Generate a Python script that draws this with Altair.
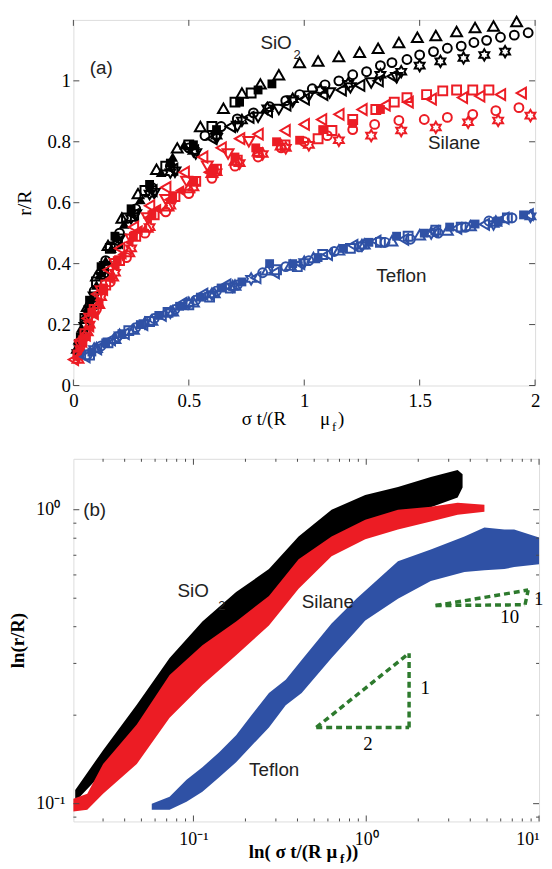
import altair as alt
import pandas as pd

BLACK = "#000000"
RED = "#ec1c24"
BLUE = "#2f51a5"
GREEN = "#2d7a2d"
FRAME = "#4a4a4a"
HEXAGRAM = ("M0,-1L0.289,-0.5L0.866,-0.5L0.577,0L0.866,0.5L0.289,0.5L0,1"
            "L-0.289,0.5L-0.866,0.5L-0.577,0L-0.866,-0.5L-0.289,-0.5Z")

# ---------------- panel (a) : r/R vs sigma t/(R mu_f) ----------------
sio2_tri_up_x = [0.03, 0.06, 0.10, 0.15, 0.21, 0.28, 0.36, 0.45, 0.55, 0.65, 0.73, 0.81, 0.89, 0.98, 1.06, 1.15, 1.24, 1.32, 1.41, 1.49, 1.57, 1.66, 1.74, 1.82, 1.92]
sio2_tri_up_y = [0.15, 0.26, 0.36, 0.46, 0.55, 0.63, 0.71, 0.78, 0.85, 0.91, 0.96, 0.99, 1.02, 1.06, 1.065, 1.08, 1.094, 1.107, 1.126, 1.143, 1.149, 1.162, 1.175, 1.18, 1.195]
sio2_tri_up_filled_x = [0.01, 0.02, 0.035, 0.05, 0.065, 0.08, 0.10, 0.12, 0.14, 0.165, 0.19, 0.22, 0.25, 0.29, 0.33, 0.38, 0.43, 0.48]
sio2_tri_up_filled_y = [0.12, 0.15, 0.19, 0.23, 0.26, 0.29, 0.33, 0.37, 0.41, 0.45, 0.49, 0.53, 0.57, 0.61, 0.65, 0.70, 0.75, 0.79]
sio2_circle_x = [0.02, 0.05, 0.09, 0.14, 0.20, 0.27, 0.34, 0.42, 0.50, 0.57, 0.64, 0.71, 0.78, 0.85, 0.92, 0.98, 1.035, 1.09, 1.15, 1.21, 1.27, 1.33, 1.38, 1.445, 1.50, 1.56, 1.62, 1.68, 1.735, 1.79, 1.85, 1.91, 1.97]
sio2_circle_y = [0.11, 0.20, 0.31, 0.41, 0.50, 0.58, 0.65, 0.72, 0.78, 0.82, 0.85, 0.875, 0.895, 0.915, 0.935, 0.955, 0.974, 0.987, 1.0, 1.02, 1.03, 1.05, 1.06, 1.07, 1.085, 1.096, 1.107, 1.114, 1.126, 1.133, 1.143, 1.15, 1.158]
sio2_star_x = [0.03, 0.07, 0.12, 0.18, 0.25, 0.33, 0.42, 0.52, 0.62, 0.73, 0.84, 0.95, 1.07, 1.19, 1.33, 1.42, 1.50, 1.59, 1.69, 1.78, 1.87]
sio2_star_y = [0.14, 0.25, 0.36, 0.46, 0.55, 0.63, 0.70, 0.77, 0.82, 0.87, 0.91, 0.94, 0.97, 0.99, 1.02, 1.03, 1.05, 1.064, 1.075, 1.085, 1.096]
sio2_tri_down_x = [0.02, 0.05, 0.09, 0.14, 0.20, 0.27, 0.35, 0.44, 0.53, 0.62, 0.71, 0.80, 0.89, 0.95, 1.02, 1.11, 1.20, 1.29, 1.40]
sio2_tri_down_y = [0.10, 0.19, 0.29, 0.39, 0.48, 0.56, 0.63, 0.70, 0.76, 0.81, 0.85, 0.88, 0.906, 0.93, 0.95, 0.96, 0.977, 0.993, 1.01]
sio2_tri_left_x = [0.04, 0.08, 0.13, 0.19, 0.26, 0.34, 0.43, 0.52, 0.60, 0.68, 0.76, 0.84, 0.92, 1.00, 1.08, 1.16, 1.24, 1.32, 1.38]
sio2_tri_left_y = [0.17, 0.27, 0.37, 0.47, 0.56, 0.64, 0.71, 0.77, 0.81, 0.85, 0.88, 0.90, 0.92, 0.94, 0.955, 0.97, 0.985, 1.0, 1.015]
sio2_sq_filled_x = [0.03, 0.07, 0.12, 0.18, 0.25, 0.33, 0.42, 0.52, 0.62, 0.72, 0.80, 0.86]
sio2_sq_filled_y = [0.16, 0.28, 0.39, 0.49, 0.58, 0.66, 0.73, 0.79, 0.84, 0.93, 0.97, 0.99]
sio2_sq_open_x = [0.05, 0.10, 0.16, 0.23, 0.31, 0.40, 0.50, 0.60, 0.70, 0.77]
sio2_sq_open_y = [0.22, 0.34, 0.45, 0.55, 0.64, 0.72, 0.79, 0.85, 0.93, 0.96]

sil_tri_left_x = [0.0, 0.03, 0.06, 0.10, 0.15, 0.20, 0.26, 0.33, 0.40, 0.48, 0.56, 0.64, 0.72, 0.80, 0.917, 1.0, 1.075, 1.15, 1.25, 1.35, 1.45, 1.55, 1.685, 1.76, 1.85, 1.94]
sil_tri_left_y = [0.085, 0.15, 0.22, 0.30, 0.38, 0.45, 0.52, 0.59, 0.65, 0.70, 0.75, 0.78, 0.81, 0.825, 0.837, 0.857, 0.873, 0.89, 0.906, 0.92, 0.93, 0.94, 0.945, 0.95, 0.955, 0.96]
sil_tri_left_filled_x = [0.01, 0.025, 0.04, 0.055, 0.07, 0.09, 0.11, 0.13, 0.155, 0.18, 0.21, 0.24, 0.28, 0.32, 0.36, 0.41, 0.46, 0.52, 0.58]
sil_tri_left_filled_y = [0.09, 0.12, 0.14, 0.16, 0.19, 0.23, 0.27, 0.31, 0.35, 0.39, 0.43, 0.47, 0.51, 0.55, 0.58, 0.61, 0.64, 0.67, 0.70]
sil_sq_open_x = [0.02, 0.05, 0.09, 0.14, 0.20, 0.27, 0.35, 0.44, 0.53, 0.62, 0.71, 0.80, 0.917, 1.06, 1.12, 1.21, 1.31, 1.39, 1.445, 1.53, 1.60, 1.66, 1.73, 1.80]
sil_sq_open_y = [0.10, 0.17, 0.25, 0.33, 0.41, 0.49, 0.56, 0.62, 0.67, 0.71, 0.74, 0.765, 0.79, 0.81, 0.837, 0.873, 0.906, 0.93, 0.945, 0.955, 0.967, 0.97, 0.97, 0.97]
sil_circle_x = [0.02, 0.05, 0.10, 0.16, 0.23, 0.31, 0.40, 0.50, 0.60, 0.70, 0.80, 0.90, 1.0, 1.1, 1.21, 1.305, 1.41, 1.52, 1.62, 1.73, 1.83, 1.93]
sil_circle_y = [0.10, 0.16, 0.25, 0.34, 0.42, 0.50, 0.57, 0.63, 0.68, 0.72, 0.75, 0.78, 0.80, 0.82, 0.84, 0.857, 0.87, 0.873, 0.88, 0.89, 0.902, 0.912]
sil_star_x = [0.03, 0.07, 0.12, 0.18, 0.25, 0.33, 0.42, 0.52, 0.62, 0.72, 0.82, 0.92, 1.02, 1.15, 1.29, 1.42, 1.57, 1.71, 1.84, 1.98]
sil_star_y = [0.12, 0.20, 0.29, 0.37, 0.45, 0.52, 0.59, 0.65, 0.70, 0.73, 0.76, 0.78, 0.79, 0.805, 0.82, 0.837, 0.847, 0.864, 0.87, 0.886]
sil_sq_filled_x = [0.04, 0.08, 0.13, 0.19, 0.26, 0.34, 0.43, 0.52, 0.61, 0.70, 0.79, 0.88, 0.98, 1.08, 1.21, 1.33]
sil_sq_filled_y = [0.15, 0.24, 0.32, 0.41, 0.49, 0.56, 0.62, 0.67, 0.71, 0.75, 0.78, 0.80, 0.805, 0.84, 0.86, 0.906]
sil_tri_up_x = [0.02, 0.06, 0.11, 0.17, 0.24, 0.32, 0.41, 0.50, 0.60, 0.70, 0.80, 0.90]
sil_tri_up_y = [0.09, 0.18, 0.27, 0.36, 0.44, 0.52, 0.59, 0.65, 0.70, 0.74, 0.77, 0.79]
sil_tri_down_x = [0.03, 0.07, 0.12, 0.18, 0.25, 0.32, 0.40, 0.49, 0.58, 0.67, 0.76]
sil_tri_down_y = [0.13, 0.22, 0.31, 0.40, 0.48, 0.55, 0.61, 0.67, 0.72, 0.76, 0.80]

tef_tri_left_x = [0.05, 0.10, 0.16, 0.22, 0.30, 0.38, 0.47, 0.56, 0.66, 0.79, 0.87, 0.98, 1.10, 1.21, 1.31, 1.43, 1.56, 1.66, 1.78, 1.865, 1.97]
tef_tri_left_y = [0.094, 0.12, 0.15, 0.17, 0.20, 0.23, 0.27, 0.30, 0.33, 0.354, 0.37, 0.40, 0.43, 0.46, 0.474, 0.48, 0.506, 0.516, 0.529, 0.549, 0.561]
tef_sq_filled_x = [0.08, 0.14, 0.21, 0.29, 0.37, 0.46, 0.55, 0.64, 0.73, 0.85, 0.95, 1.06, 1.17, 1.28, 1.40, 1.52, 1.63, 1.74, 1.84, 1.95]
tef_sq_filled_y = [0.11, 0.14, 0.17, 0.20, 0.23, 0.26, 0.29, 0.32, 0.34, 0.40, 0.40, 0.42, 0.45, 0.47, 0.49, 0.50, 0.52, 0.53, 0.54, 0.56]
tef_circle_x = [0.06, 0.12, 0.19, 0.27, 0.35, 0.44, 0.53, 0.62, 0.71, 0.82, 0.92, 1.02, 1.13, 1.24, 1.35, 1.46, 1.58, 1.70, 1.80, 1.90]
tef_circle_y = [0.10, 0.13, 0.16, 0.19, 0.22, 0.25, 0.28, 0.31, 0.33, 0.37, 0.39, 0.41, 0.44, 0.455, 0.47, 0.48, 0.50, 0.52, 0.54, 0.55]
tef_tri_up_x = [0.10, 0.18, 0.26, 0.34, 0.43, 0.52, 0.61, 0.70, 0.84, 0.94, 1.04, 1.15, 1.26, 1.38, 1.50, 1.62, 1.72, 1.83]
tef_tri_up_y = [0.125, 0.155, 0.185, 0.215, 0.245, 0.275, 0.305, 0.33, 0.38, 0.395, 0.42, 0.445, 0.465, 0.475, 0.495, 0.51, 0.525, 0.54]
tef_star_x = [0.09, 0.20, 0.31, 0.42, 0.50, 0.60, 0.69, 0.77, 1.0, 1.25, 1.55, 1.82, 1.98]
tef_star_y = [0.12, 0.165, 0.205, 0.24, 0.27, 0.30, 0.325, 0.35, 0.405, 0.46, 0.50, 0.53, 0.555]
tef_sq_open_x = [0.07, 0.15, 0.24, 0.33, 0.41, 0.50, 0.59, 0.68, 0.88, 0.97, 1.08, 1.20, 1.33, 1.45, 1.57, 1.68, 1.88]
tef_sq_open_y = [0.10, 0.14, 0.18, 0.21, 0.24, 0.265, 0.29, 0.32, 0.38, 0.39, 0.43, 0.45, 0.47, 0.49, 0.51, 0.52, 0.55]

# ---------------- panel (b) : log-log bands ----------------
sio2_band_x = [0.0207, 0.030, 0.047, 0.0728, 0.1127, 0.1766, 0.2735, 0.406, 0.630, 0.987, 1.526, 2.364, 3.38, 3.61]
sio2_band_lo = [0.1016, 0.128, 0.1747, 0.248, 0.325, 0.394, 0.479, 0.653, 0.80, 0.90, 0.962, 1.02, 1.10, 1.19]
sio2_band_hi = [0.1114, 0.152, 0.217, 0.313, 0.417, 0.525, 0.628, 0.811, 1.0, 1.123, 1.195, 1.291, 1.364, 1.32]
sil_band_x = [0.0202, 0.0243, 0.030, 0.047, 0.0728, 0.1127, 0.1766, 0.2735, 0.406, 0.630, 0.987, 1.526, 2.364, 3.38, 4.83]
sil_band_lo = [0.094, 0.0954, 0.108, 0.1364, 0.196, 0.2535, 0.320, 0.404, 0.538, 0.695, 0.793, 0.856, 0.911, 0.962, 0.985]
sil_band_hi = [0.104, 0.108, 0.1364, 0.186, 0.274, 0.346, 0.417, 0.509, 0.679, 0.811, 0.925, 1.0, 1.024, 1.056, 1.039]
tef_band_x = [0.0574, 0.0728, 0.0912, 0.1127, 0.141, 0.1766, 0.2183, 0.2735, 0.342, 0.423, 0.630, 0.877, 0.987, 1.526, 2.364, 3.70, 4.83, 6.30, 7.18, 10.0]
tef_band_lo = [0.0954, 0.0954, 0.1016, 0.1098, 0.123, 0.1384, 0.158, 0.1817, 0.216, 0.238, 0.313, 0.388, 0.420, 0.498, 0.572, 0.614, 0.623, 0.628, 0.638, 0.653]
tef_band_hi = [0.100, 0.1056, 0.1205, 0.133, 0.1496, 0.171, 0.201, 0.238, 0.264, 0.308, 0.410, 0.498, 0.530, 0.668, 0.733, 0.811, 0.870, 0.856, 0.856, 0.805]

slope_x = [0.514, 1.77, 0.514, 2.52, 8.30, 2.52]
slope_y = [0.1817, 0.1817, 0.1817, 0.472, 0.475, 0.472]
slope_x2 = [1.77, 1.77, 1.77, 8.30, 8.65, 8.65]
slope_y2 = [0.1817, 0.325, 0.325, 0.475, 0.533, 0.533]
slope_label_text = ["1", "2", "1", "10"]
slope_label_x = [2.06, 0.961, 9.35, 5.97]
slope_label_y = [0.248, 0.159, 0.498, 0.433]

a_xticks = [0, 0.5, 1, 1.5, 2]
a_yticks = [0, 0.2, 0.4, 0.6, 0.8, 1.0]
b_xmajor = [0.1, 1, 10]
b_xminor = [0.03, 0.04, 0.05, 0.06, 0.07, 0.08, 0.09, 0.2, 0.3, 0.4, 0.5, 0.6, 0.7, 0.8, 0.9,
            2, 3, 4, 5, 6, 7, 8, 9]
b_ymajor = [0.1, 1]
b_yminor = [0.09, 0.2, 0.3, 0.4, 0.5, 0.6, 0.7, 0.8, 0.9]

# ---------------------------------------------------------------------------
SHAPES = {"tu": "triangle-up", "td": "triangle-down", "tl": "triangle-left",
          "c": "circle", "s": "square", "h": HEXAGRAM}
SIZES = {"tu": 120, "td": 120, "tl": 120, "c": 80, "s": 80, "h": 130}


def series(xs, ys, key, color, filled):
    return pd.DataFrame({"x": xs, "y": ys, "shape": SHAPES[key], "size": SIZES[key],
                         "color": color, "filled": filled})


black_df = pd.concat([
    series(sio2_circle_x, sio2_circle_y, "c", BLACK, False),
    series(sio2_tri_down_x, sio2_tri_down_y, "td", BLACK, False),
    series(sio2_tri_left_x, sio2_tri_left_y, "tl", BLACK, False),
    series(sio2_star_x, sio2_star_y, "h", BLACK, False),
    series(sio2_sq_open_x, sio2_sq_open_y, "s", BLACK, False),
    series(sio2_tri_up_x, sio2_tri_up_y, "tu", BLACK, False),
    series(sio2_sq_filled_x, sio2_sq_filled_y, "s", BLACK, True),
    series(sio2_tri_up_filled_x, sio2_tri_up_filled_y, "tu", BLACK, True),
])
red_df = pd.concat([
    series(sil_tri_up_x, sil_tri_up_y, "tu", RED, False),
    series(sil_tri_down_x, sil_tri_down_y, "td", RED, False),
    series(sil_circle_x, sil_circle_y, "c", RED, False),
    series(sil_star_x, sil_star_y, "h", RED, False),
    series(sil_sq_open_x, sil_sq_open_y, "s", RED, False),
    series(sil_tri_left_x, sil_tri_left_y, "tl", RED, False),
    series(sil_sq_filled_x, sil_sq_filled_y, "s", RED, True),
    series(sil_tri_left_filled_x, sil_tri_left_filled_y, "tl", RED, True),
])
blue_df = pd.concat([
    series(tef_circle_x, tef_circle_y, "c", BLUE, False),
    series(tef_tri_up_x, tef_tri_up_y, "tu", BLUE, False),
    series(tef_star_x, tef_star_y, "h", BLUE, False),
    series(tef_sq_open_x, tef_sq_open_y, "s", BLUE, False),
    series(tef_tri_left_x, tef_tri_left_y, "tl", BLUE, False),
    series(tef_sq_filled_x, tef_sq_filled_y, "s", BLUE, True),
])

AW, AH = 466, 369
BW, BH = 470, 366
TL = 6
TM = 3

xs_a = alt.Scale(domain=[0, 2], nice=False, zero=False)
ys_a = alt.Scale(domain=[0, 1.2], nice=False, zero=False)
xs_b = alt.Scale(type="log", domain=[0.0202, 10], nice=False)
ys_b = alt.Scale(type="log", domain=[0.087, 1.49], nice=False)

SERIF = "Liberation Serif"
SANS = "Liberation Sans"


def label_axis(orient, values, **kw):
    return alt.Axis(orient=orient, values=values, ticks=False, domain=False, grid=False,
                    minExtent=0, labelFont=SERIF, labelColor="black", **kw)


def holder(xscale, yscale, xval, yval, xaxis, yaxis):
    return alt.Chart(pd.DataFrame({"x": [xval], "y": [yval]})).mark_point(
        opacity=0, size=1).encode(
        x=alt.X("x:Q", scale=xscale, axis=xaxis),
        y=alt.Y("y:Q", scale=yscale, axis=yaxis))


def xticks(values, xscale, y0, y1):
    return alt.Chart(pd.DataFrame({"v": values})).mark_rule(color=FRAME, strokeWidth=1).encode(
        x=alt.X("v:Q", scale=xscale, axis=None), y=alt.value(y0), y2=alt.value(y1))


def yticks(values, yscale, x0, x1):
    return alt.Chart(pd.DataFrame({"v": values})).mark_rule(color=FRAME, strokeWidth=1).encode(
        y=alt.Y("v:Q", scale=yscale, axis=None), x=alt.value(x0), x2=alt.value(x1))


def pix_text(text, x, y, size, weight="normal", font=SERIF, align="left"):
    return alt.Chart(pd.DataFrame({"t": [text]})).mark_text(
        font=font, fontSize=size, fontWeight=weight, align=align, baseline="middle",
        color="black").encode(text="t:N", x=alt.value(x), y=alt.value(y))


def marker_layers(df):
    out = []
    for filled in (False, True):
        sub = df[df["filled"] == filled]
        out.append(alt.Chart(sub).mark_point(filled=filled, strokeWidth=2, opacity=1).encode(
            x=alt.X("x:Q", scale=xs_a, axis=None),
            y=alt.Y("y:Q", scale=ys_a, axis=None),
            shape=alt.Shape("shape:N", scale=None),
            size=alt.Size("size:Q", scale=None),
            color=alt.Color("color:N", scale=None)))
    return out


def text_layer(df, xscale, yscale, size, font=SANS, color="#222222"):
    return alt.Chart(df).mark_text(font=font, fontSize=size, align="left",
                                   baseline="middle", color=color).encode(
        x=alt.X("x:Q", scale=xscale, axis=None),
        y=alt.Y("y:Q", scale=yscale, axis=None),
        text="t:N")


ann_a = pd.DataFrame({
    "t": ["(a)", "SiO", "Silane", "Teflon"],
    "x": [0.071, 0.81, 1.536, 1.312],
    "y": [1.042, 1.123, 0.795, 0.36],
})
ann_a_sub = pd.DataFrame({"t": ["2"], "x": [0.954], "y": [1.084]})

panel_a_layers = [
    holder(xs_a, ys_a, 1, 0.5,
           label_axis("bottom", a_xticks, labelFontSize=19, labelPadding=6, labelFlush=False,
                      format="~g", title=None),
           label_axis("left", a_yticks, labelFontSize=19, labelPadding=3,
                      format="~g", title="r/R", titleFont=SERIF, titleFontSize=20,
                      titleFontWeight="normal", titleColor="black", titlePadding=13)),
] + marker_layers(black_df) + marker_layers(red_df) + marker_layers(blue_df) + [
    text_layer(ann_a, xs_a, ys_a, 19),
    text_layer(ann_a_sub, xs_a, ys_a, 13),
    xticks(a_xticks, xs_a, AH, AH - TL),
    xticks(a_xticks, xs_a, 0, TL),
    yticks(a_yticks, ys_a, 0, TL),
    yticks(a_yticks, ys_a, AW, AW - TL),
    pix_text("σ t/(R", 170, 403, 19),
    pix_text("μ", 249, 403, 19),
    pix_text("f", 261, 411, 13),
    pix_text(")", 267, 403, 19),
]
panel_a = alt.layer(*panel_a_layers).resolve_axis(x="independent", y="independent").properties(
    width=AW, height=AH)


def band(xs, lo, hi, color):
    return alt.Chart(pd.DataFrame({"x": xs, "lo": lo, "hi": hi})).mark_area(
        color=color, opacity=1).encode(
        x=alt.X("x:Q", scale=xs_b, axis=None),
        y=alt.Y("lo:Q", scale=ys_b, axis=None),
        y2="hi:Q")


slopes = pd.DataFrame({"x": slope_x, "y": slope_y, "x2": slope_x2, "y2": slope_y2})
slope_layer = alt.Chart(slopes).mark_rule(color=GREEN, strokeWidth=3.5, strokeDash=[6, 4]).encode(
    x=alt.X("x:Q", scale=xs_b, axis=None), y=alt.Y("y:Q", scale=ys_b, axis=None),
    x2="x2:Q", y2="y2:Q")
slope_labels = pd.DataFrame({"t": slope_label_text, "x": slope_label_x, "y": slope_label_y})

ann_b = pd.DataFrame({
    "t": ["(b)", "SiO", "Silane", "Teflon"],
    "x": [0.023, 0.0809, 0.423, 0.21],
    "y": [1.0, 0.530, 0.486, 0.130],
})
ann_b_sub = pd.DataFrame({"t": ["2"], "x": [0.139], "y": [0.471]})

LOG_LABELS = "datum.value < 0.5 ? '10⁻¹' : (datum.value < 5 ? '10⁰' : '10¹')"

panel_b_layers = [
    holder(xs_b, ys_b, 1, 0.5,
           label_axis("bottom", b_xmajor, labelFontSize=18, labelPadding=9, labelFlush=True,
                      labelExpr=LOG_LABELS, title=None),
           label_axis("left", b_ymajor, labelFontSize=18, labelPadding=38,
                      labelAlign="left", labelExpr=LOG_LABELS,
                      title="ln(r/R)", titleFont=SERIF, titleFontSize=19,
                      titleFontWeight="bold", titleColor="black", titlePadding=8)),
    band(sio2_band_x, sio2_band_lo, sio2_band_hi, BLACK),
    band(sil_band_x, sil_band_lo, sil_band_hi, RED),
    band(tef_band_x, tef_band_lo, tef_band_hi, BLUE),
    slope_layer,
    text_layer(slope_labels, xs_b, ys_b, 19, font=SERIF, color="black"),
    text_layer(ann_b, xs_b, ys_b, 19),
    text_layer(ann_b_sub, xs_b, ys_b, 13),
    xticks(b_xmajor, xs_b, BH, BH - TL),
    xticks(b_xmajor, xs_b, 0, TL),
    yticks(b_ymajor, ys_b, 0, TL),
    yticks(b_ymajor, ys_b, BW, BW - TL),
    xticks(b_xminor, xs_b, BH, BH - TM),
    xticks(b_xminor, xs_b, 0, TM),
    yticks(b_yminor, ys_b, 0, TM),
    yticks(b_yminor, ys_b, BW, BW - TM),
    pix_text("ln( σ t/(R μ", 177, 397, 19, weight="bold"),
    pix_text("f", 269, 404, 13, weight="bold"),
    pix_text("))", 275, 397, 19, weight="bold"),
]
panel_b = alt.layer(*panel_b_layers).resolve_axis(x="independent", y="independent").properties(
    width=BW, height=BH)

chart = alt.concat(panel_a, panel_b, columns=1, spacing=23, align="none").properties(
    padding={"left": 0, "top": 0, "right": 0, "bottom": 0}
).configure_view(stroke=FRAME, strokeWidth=1).configure(background="white")

chart.save("out.html", embed_options={"renderer": "svg", "actions": False})
